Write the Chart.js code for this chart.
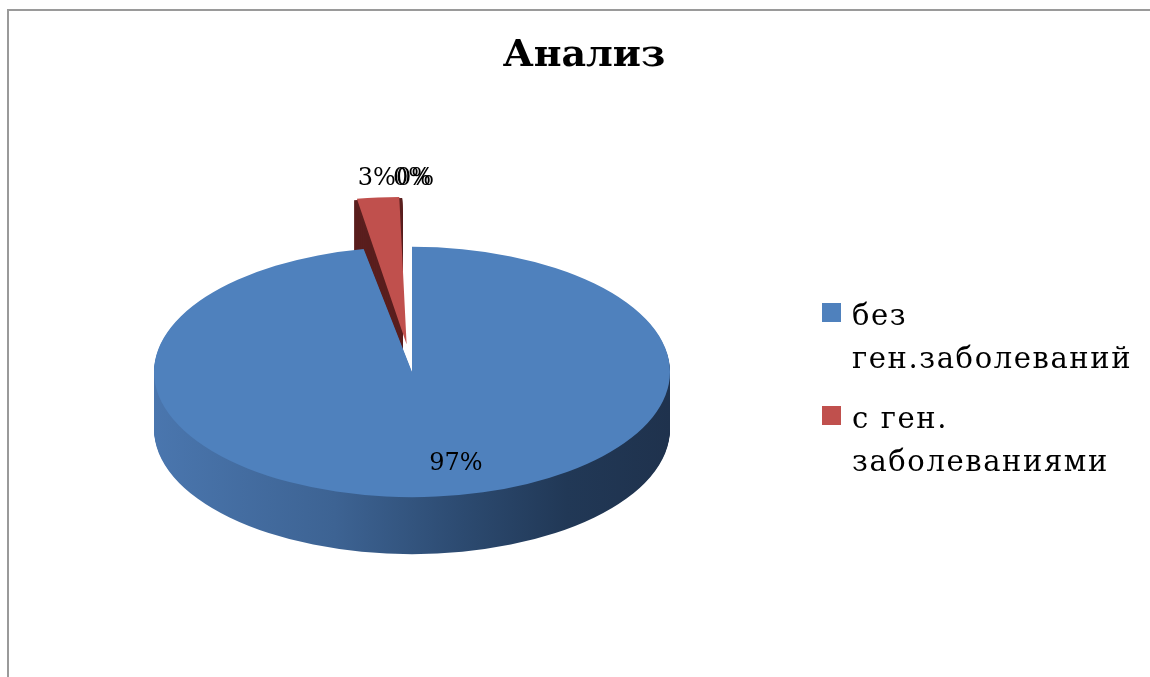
<!DOCTYPE html>
<html lang="ru">
<head>
<meta charset="utf-8">
<title>Анализ</title>
<script src="https://cdn.jsdelivr.net/npm/chart.js@4.4.1/dist/chart.umd.min.js"></script>
<style>
  html, body { margin: 0; padding: 0; background: #fff; }
  body { width: 1150px; height: 677px; position: relative; overflow: hidden; }
  #frame { position: absolute; left: 7px; top: 9px; width: 1300px; height: 800px;
           border-top: 2px solid #9a9a9a; border-left: 2px solid #9a9a9a; }
  #chart { position: absolute; left: 0; top: 0; }
  #title { position: absolute; left: 0; top: 31px; width: 1168px; text-align: center;
           font: bold 38px "DejaVu Serif", serif; line-height: 44px; color: #000; }
  #legend { position: absolute; left: 822px; top: 294px; width: 328px;
            font-family: "DejaVu Serif", serif; font-size: 29px; letter-spacing: 1.6px;
            line-height: 43px; color: #000; }
  .item { position: relative; padding-left: 30px; margin-bottom: 17px; }
  .item .box { position: absolute; left: 0; top: 9px; width: 19px; height: 19px; }
</style>
</head>
<body>
<div id="frame"></div>
<canvas id="chart" width="1150" height="677"></canvas>
<div id="title">Анализ</div>
<div id="legend"></div>
<script>
// categories (the last two rows of the sheet have no name)
const labels = ["без ген.заболеваний", "с ген. заболеваниями", "", ""];
const percents = [97, 3, 0, 0];
const topColors = ["#4f81bd", "#c0504d", "#9bbb59", "#8064a2"];
const wallColors = [null, "#5a1f1e", "#5d7330", "#4c3c62"];

const TILT = 0.485;  // vertical squash of the disc
const DEPTH = 57;    // thickness of the disc, px
const INNER_LABEL_SHIFT = 26; // big slice label sits a bit right of its bisector

// same shift that ArcElement applies for options.offset
function explodeShift(arc) {
  const off = (arc.options.offset || 0) / 4;
  const fix = 1 - Math.sin(Math.min(Math.PI, arc.circumference || 0));
  return off * (1 + fix);
}

function tilt(ctx, cx, cy, dy) {
  ctx.translate(cx, cy + dy);
  ctx.scale(1, TILT);
  ctx.translate(-cx, -cy);
}

function wedge(ctx, arc) {
  const mid = (arc.startAngle + arc.endAngle) / 2;
  const s = explodeShift(arc);
  const x = arc.x + Math.cos(mid) * s;
  const y = arc.y + Math.sin(mid) * s;
  ctx.beginPath();
  ctx.moveTo(x, y);
  ctx.arc(x, y, arc.outerRadius, arc.startAngle, arc.endAngle);
  ctx.closePath();
}

const pie3d = {
  id: "pie3d",
  beforeDatasetsDraw(chart) {
    const ctx = chart.ctx;
    const arcs = chart.getDatasetMeta(0).data;
    const cx = arcs[0].x, cy = arcs[0].y, r = arcs[0].outerRadius;

    const shade = ctx.createLinearGradient(cx - r, 0, cx + r, 0);
    shade.addColorStop(0, "#4a76ae");
    shade.addColorStop(0.35, "#3d6393");
    shade.addColorStop(0.6, "#2c4a70");
    shade.addColorStop(0.8, "#213856");
    shade.addColorStop(1, "#1f324d");

    // side walls: back slices first
    for (let i = arcs.length - 1; i >= 0; i--) {
      const arc = arcs[i];
      if (!arc.circumference) continue;
      ctx.fillStyle = i === 0 ? shade : wallColors[i];
      for (let d = DEPTH; d > 0; d--) {
        ctx.save();
        tilt(ctx, cx, cy, d);
        wedge(ctx, arc);
        ctx.fill();
        ctx.restore();
      }
    }
    // top faces are drawn by Chart.js inside this transform
    ctx.save();
    tilt(ctx, cx, cy, 0);
  },
  afterDatasetsDraw(chart) {
    const ctx = chart.ctx;
    ctx.restore();

    const arcs = chart.getDatasetMeta(0).data;
    const used = [];
    ctx.save();
    ctx.font = '24px "DejaVu Serif"';
    ctx.fillStyle = "#000";
    ctx.textAlign = "center";
    arcs.forEach((arc, i) => {
      const mid = (arc.startAngle + arc.endAngle) / 2;
      let rr, px, py, dx = 0;
      if (percents[i] >= 10) {
        rr = arc.outerRadius * 0.74;
        dx = INNER_LABEL_SHIFT;
        ctx.textBaseline = "middle";
      } else {
        rr = arc.outerRadius + explodeShift(arc) + 14;
        ctx.textBaseline = "bottom";
      }
      px = arc.x + Math.cos(mid) * rr + dx;
      py = arc.y + Math.sin(mid) * rr * TILT;
      // labels landing on the same spot get nudged aside
      while (used.some(p => Math.abs(p[0] - px) < 2 && Math.abs(p[1] - py) < 2)) px += 3;
      used.push([px, py]);
      ctx.fillText(percents[i] + "%", px, py);
    });
    ctx.restore();
  }
};

new Chart(document.getElementById("chart"), {
  type: "pie",
  data: {
    labels: labels,
    datasets: [{
      data: percents,
      backgroundColor: topColors,
      borderWidth: 0,
      offset: [0, 228, 202, 202]
    }]
  },
  options: {
    responsive: false,
    animation: false,
    events: [],
    radius: 258,
    layout: { padding: { left: 0, right: 326, top: 67, bottom: 0 } },
    plugins: {
      legend: { display: false },
      tooltip: { enabled: false },
      title: { display: false }
    }
  },
  plugins: [pie3d]
});

// legend on the right, only named rows
const legend = document.getElementById("legend");
labels.forEach((name, i) => {
  if (!name) return;
  const item = document.createElement("div");
  item.className = "item";
  const box = document.createElement("span");
  box.className = "box";
  box.style.background = topColors[i];
  item.appendChild(box);
  item.appendChild(document.createTextNode(name));
  legend.appendChild(item);
});
</script>
</body>
</html>
